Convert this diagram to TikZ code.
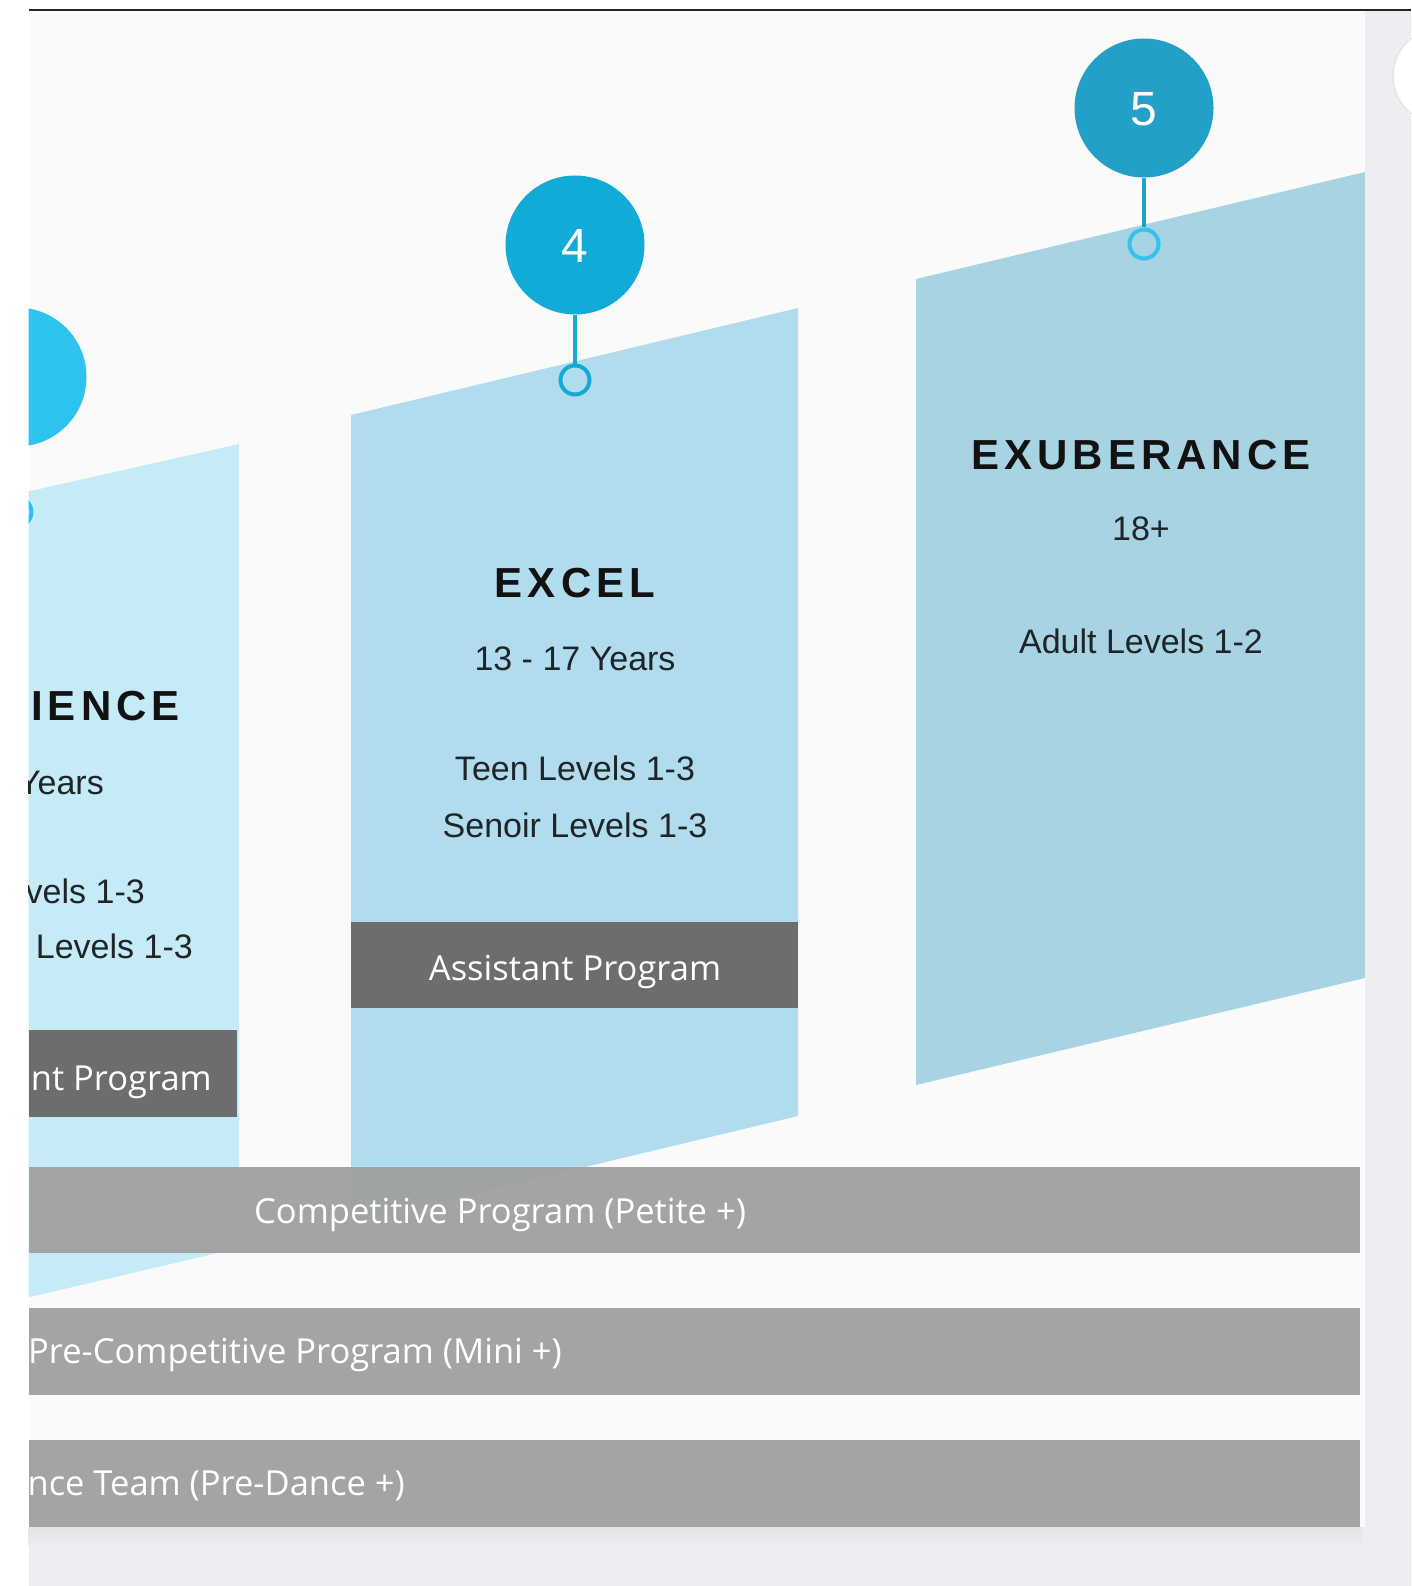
\documentclass[tikz,border=0pt]{standalone}
\usepackage{fontspec}
\setmainfont{Liberation Sans}
\newfontfamily\headfont[LetterSpace=12]{Liberation Sans}
\newfontfamily\barfont{Open Sans}
\usetikzlibrary{positioning}

\definecolor{paper}{HTML}{FAFAFA}
\definecolor{strip}{HTML}{ECEEF1}
\definecolor{rule}{HTML}{262626}
\definecolor{ink}{HTML}{121212}
\definecolor{copy}{HTML}{1F2427}
\definecolor{col3}{HTML}{C5EBF6}
\definecolor{col4}{HTML}{B0DCEE}
\definecolor{col5}{HTML}{A7D3E3}
\definecolor{blue3}{HTML}{2DC3EE}
\definecolor{blue4}{HTML}{12ABD7}
\definecolor{blue5}{HTML}{22A0C7}
\definecolor{cyan5}{HTML}{33C3EC}
\definecolor{darkbar}{HTML}{6D6D6D}
\definecolor{bandgrey}{HTML}{A0A0A0}

\tikzset{
  title/.style={font=\headfont\bfseries\fontsize{42}{50}\selectfont, text=ink, inner sep=0pt, text height=30pt, text depth=0pt},
  body/.style={font=\fontsize{34}{40}\selectfont, text=copy, inner sep=0pt, text height=24.3pt, text depth=0pt},
  badge/.style={circle, minimum size=139pt, inner sep=0pt, text=white, font=\fontsize{48}{56}\selectfont, text height=34.4pt, text depth=0pt},
  ring/.style={circle, minimum size=29pt, inner sep=0pt, line width=4pt},
  stem/.style={line width=4.5pt},
  tagtext/.style={font=\barfont\fontsize{34.5}{40}\selectfont, text=white, inner sep=0pt, text height=24.6pt, text depth=0pt},
  band/.style={fill=bandgrey, fill opacity=0.95}
}

\begin{document}
\begin{tikzpicture}[x=1pt,y=-1pt]

\useasboundingbox (0,0) rectangle (1411,1586);
\fill[white] (0,0) rectangle (1411,1586);
\fill[paper] (28.5,11) rectangle (1365,1527);

\begin{scope}
\clip (28.5,11) rectangle (1365,1527);

% columns
\fill[col3] (-209,545) -- (239,444) -- (239,1248) -- (-209,1353) -- cycle;
\fill[col4] (351,415) -- (798,308) -- (798,1116) -- (351,1223) -- cycle;
\fill[col5] (916,279) -- (1365,172) -- (1365,978) -- (916,1085) -- cycle;

% badges
\node[badge, fill=blue3] (c3) at (17,377) {3};
\node[ring, draw=blue3, fill=col3] (r3) at (17,512) {};
\draw[stem, blue3] (c3) -- (r3);

\node[badge, fill=blue4] (c4) at (575,245) {4};
\node[ring, draw=blue4, fill=col4] (r4) at (575,380) {};
\draw[stem, blue4] (c4) -- (r4);

\node[badge, fill=blue5] (c5) at (1144,108) {5};
\node[ring, draw=cyan5, fill=col5] (r5) at (1144,244) {};
\draw[stem, blue5] (c5) -- (r5);

% column texts
\node[title, anchor=east] (t3) at (180,705) {IENCE};
\node[body, anchor=east] (a3) at (104,782) {Years};
\node[body, anchor=east] (l3a) at (145,891) {Levels 1-3};
\node[body, anchor=east] (l3b) at (193,946) {Levels 1-3};

\node[title] (t4) at (575,582) {EXCEL};
\node[body, below=49pt of t4] (a4) {13 - 17 Years};
\node[body, below=85pt of a4] (l4a) {Teen Levels 1-3};
\node[body, below=32pt of l4a] (l4b) {Senoir Levels 1-3};

\node[title] (t5) at (1141,454) {EXUBERANCE};
\node[body, below=47pt of t5] (a5) {18+};
\node[body, below=88pt of a5] (l5) {Adult Levels 1-2};

% assistant bars
\fill[darkbar] (28.5,1030) rectangle (237,1117);
\node[tagtext, anchor=east] (p3) at (212,1078) {Assistant Program};
\fill[darkbar] (351,922) rectangle (798,1008);
\node[tagtext] (p4) at (575,968) {Assistant Program};

% programme bands
\fill[band] (28.5,1167) rectangle (1360,1253);
\fill[band] (28.5,1308) rectangle (1360,1395);
\fill[band] (28.5,1440) rectangle (1360,1527);
\node[tagtext, anchor=west] (k1) at (254,1211) {Competitive Program (Petite +)};
\node[tagtext, anchor=west] (k2) at (28,1351) {Pre-Competitive Program (Mini +)};
\node[tagtext, anchor=east] (k3) at (405,1483) {Dance Team (Pre-Dance +)};
\end{scope}

% frame
\fill[strip] (1365,11) rectangle (1411,1586);
\fill[strip] (28.5,1527) rectangle (1411,1586);
\shade[top color=black!11, bottom color=strip] (28.5,1527) rectangle (1362,1546);
\fill[white, draw=black!10, line width=1.5pt] (1441,76) circle (48);
\draw[rule, line width=2.5pt] (28.5,10) -- (1411,10);

\end{tikzpicture}
\end{document}
